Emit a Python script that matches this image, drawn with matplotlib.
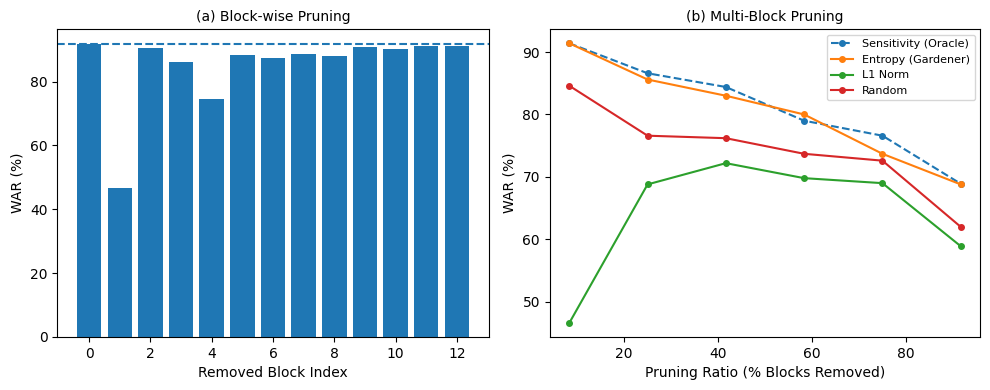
import matplotlib
matplotlib.use("Agg")
import matplotlib.pyplot as plt
import numpy as np

block_idx = list(range(13))
block_war = [91.8, 46.7, 90.6, 86.2, 74.6, 88.4, 87.5, 88.7, 88.1, 90.9, 90.3, 91.2, 91.2]
baseline_war = 91.8

ratios = [100 * k / 12 for k in [1, 3, 5, 7, 9, 11]]
sens = [91.4, 86.6, 84.4, 79.0, 76.6, 68.9]
entropy = [91.4, 85.6, 83.0, 80.0, 73.7, 68.8]
l1 = [46.6, 68.8, 72.2, 69.8, 69.0, 58.9]
rand = [84.6, 76.6, 76.2, 73.7, 72.6, 62.0]

fig = plt.figure(figsize=(9.9, 3.9), dpi=100)
W, H = 990, 390
ax1 = fig.add_axes([57.3 / W, 1 - 337 / H, (488.7 - 57.3) / W, (337 - 29.3) / H])
ax2 = fig.add_axes([549.7 / W, 1 - 337 / H, (980.3 - 549.7) / W, (337 - 29.3) / H])

ax1.bar(block_idx, block_war, color="#1f77b4")
ax1.axhline(baseline_war, linestyle="--", color="#1f77b4")
ax1.set_title("(a) Block-wise Pruning", fontsize=10)
ax1.set_xlabel("Removed Block Index")
ax1.set_ylabel("WAR (%)")

ax2.plot(ratios, sens, "o--", color="#1f77b4", markersize=4, label="Sensitivity (Oracle)")
ax2.plot(ratios, entropy, "o-", color="#ff7f0e", markersize=4, label="Entropy (Gardener)")
ax2.plot(ratios, l1, "o-", color="#2ca02c", markersize=4, label="L1 Norm")
ax2.plot(ratios, rand, "o-", color="#d62728", markersize=4, label="Random")
ax2.set_title("(b) Multi-Block Pruning", fontsize=10)
ax2.set_xlabel("Pruning Ratio (% Blocks Removed)")
ax2.set_ylabel("WAR (%)")
ax2.legend(fontsize=8)

fig.savefig("out.png")
